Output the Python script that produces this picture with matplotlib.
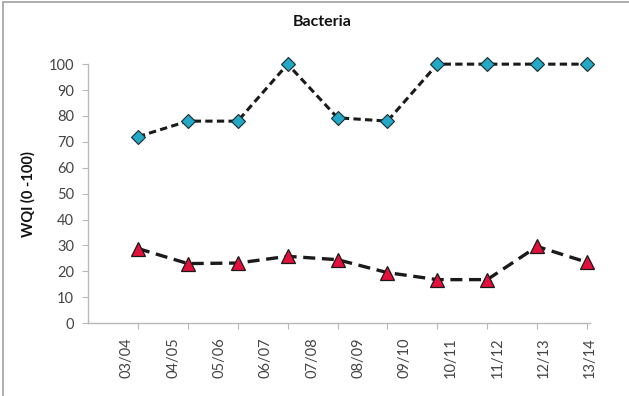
import numpy as np
import matplotlib
matplotlib.use('Agg')
from matplotlib import pyplot as plt
from matplotlib.patches import Rectangle

plt.rcParams['font.family'] = ['Lato', 'DejaVu Sans']

seasons = ['03/04', '04/05', '05/06', '06/07', '07/08', '08/09',
           '09/10', '10/11', '11/12', '12/13', '13/14']
upper_wqi = [72, 78, 78, 100, 79.3, 78, 100, 100, 100, 100]
lower_wqi = [28.8, 23, 23.2, 25.8, 24.5, 19.5, 16.8, 16.8, 29.6, 23.5]
y_ticks = list(range(0, 101, 10))


def draw():
    fig = plt.figure(figsize=(6.29, 3.96), dpi=100)
    ax = fig.add_axes([0.140, 0.184, 0.798, 0.654])

    x = np.arange(len(upper_wqi))
    ax.plot(x, upper_wqi, color='#1a1a1a', lw=2.2, dashes=(2.4, 1.4),
            marker='D', ms=7.5, mfc='#23a9c6', mec='#1a2a30', mew=0.8,
            clip_on=False, zorder=3)
    ax.plot(x, lower_wqi, color='#1a1a1a', lw=2.4, dashes=(3.6, 2.0),
            marker='^', ms=9.5, mfc='#e3103c', mec='#1a1a1a', mew=0.9,
            clip_on=False, zorder=3)

    ax.set_xlim(-1.0, 9.0)
    ax.set_ylim(0, 100)
    ax.set_yticks(y_ticks)
    ax.tick_params(axis='y', labelsize=10.5, labelcolor='#444444',
                   color='#b8b8b8', length=4, pad=6)

    # tick marks sit on the points, the labels are spread a little tighter
    ax.set_xticks(x)
    ax.set_xticklabels([])
    ax.tick_params(axis='x', which='major', color='#b8b8b8', length=4,
                   direction='out')
    label_pos = np.linspace(-0.22, 9.06, len(seasons))
    ax.set_xticks(label_pos, seasons, minor=True)
    ax.tick_params(axis='x', which='minor', length=0, labelsize=10.5,
                   labelcolor='#444444', labelrotation=90, pad=10)

    for side in ['top', 'right']:
        ax.spines[side].set_visible(False)
    for side in ['left', 'bottom']:
        ax.spines[side].set_color('#b8b8b8')
        ax.spines[side].set_linewidth(1.0)

    ax.set_ylabel('WQI (0 -100)', fontsize=10.5, fontweight='bold', color='#111111')
    ax.yaxis.set_label_coords(-0.105, 0.5)
    fig.text(0.512, 0.945, 'Bacteria', ha='center', va='center',
             fontsize=11.5, fontweight='bold', color='#111111')

    fig.patches.append(Rectangle((0.004, -0.05), 1.2, 1.044, transform=fig.transFigure,
                                 fill=False, edgecolor='#a0a0a0', lw=1.2))

    fig.savefig('out.png', dpi=100)


draw()
